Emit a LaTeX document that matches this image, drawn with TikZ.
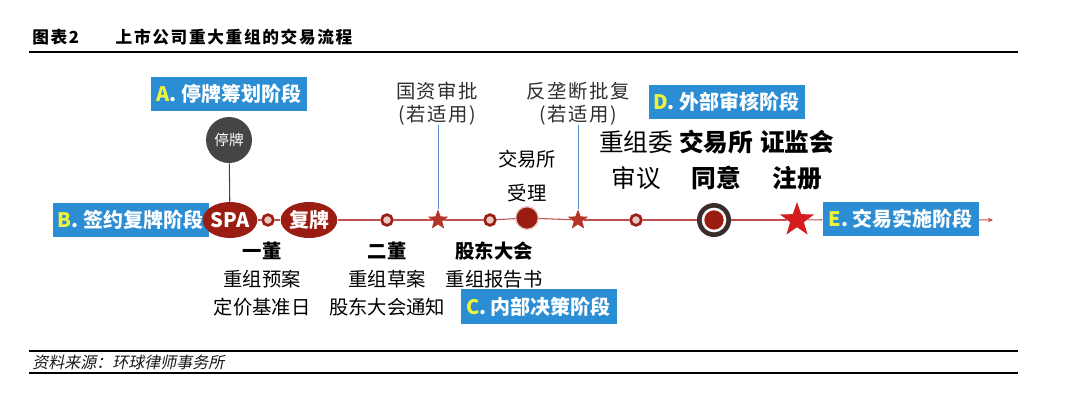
\documentclass[tikz,border=0pt]{standalone}
\usepackage{fontspec}
\setmainfont{Noto Sans CJK SC}
\newfontfamily\cjkit[FakeSlant=0.2]{Noto Sans CJK SC}
\usetikzlibrary{shapes.geometric,arrows.meta}
\definecolor{boxblue}{HTML}{2B8DD3}
\definecolor{yel}{HTML}{EEF23A}
\definecolor{dred}{HTML}{9B1C12}
\definecolor{tline}{HTML}{C0504D}
\definecolor{dotin}{HTML}{E9C9C2}
\definecolor{dgray}{HTML}{454545}
\definecolor{sstar}{HTML}{B5352B}
\definecolor{bstarc}{HTML}{D51C1F}
\definecolor{vblue}{HTML}{5B86C8}
\definecolor{ring}{HTML}{3C2C2C}
\definecolor{txtgray}{HTML}{2E2E2E}
\begin{document}
\begin{tikzpicture}[x=0.75pt,y=-0.75pt,
  stagebox/.style={fill=boxblue,text=white,font=\bfseries\fontsize{15}{18}\selectfont,
    minimum width=117pt,minimum height=26pt,inner sep=0pt},
  tl/.style={draw=tline,line width=0.8pt},
  vline/.style={draw=vblue,line width=0.6pt},
  sdot/.style={circle,fill=dotin,draw=dred,line width=2pt,minimum size=8pt,inner sep=0pt},
  redell/.style={ellipse,fill=dred,text=white,inner sep=0pt,font=\bfseries\fontsize{15}{18}\selectfont},
  sstarn/.style={star,star points=5,star point ratio=2.4,fill=sstar,minimum size=16pt,inner sep=0pt},
  lowtxt/.style={align=center,text=black,font=\fontsize{14.5}{21}\selectfont,inner sep=0pt},
  toptxt/.style={align=center,text=txtgray,font=\fontsize{14.5}{17}\selectfont\addfontfeature{LetterSpace=8},inner sep=0pt},
  bigtxt/.style={align=center,text=black,font=\fontsize{18.5}{27}\selectfont,inner sep=0pt}
]
\useasboundingbox (0,0) rectangle (1071,404);

% header and footer rules
\node[anchor=west,inner sep=0pt,font=\bfseries\fontsize{12.5}{15}\selectfont\addfontfeature{LetterSpace=10}] (title) at (32,37) {图表2\hspace{2.2em}上市公司重大重组的交易流程};
\draw[line width=2pt] (29,52) -- (1018,52);
\draw[line width=1.5pt] (29,351) -- (1018,351);
\node[anchor=west,inner sep=0pt,text=black!90,font=\cjkit\fontsize{12}{14}\selectfont] (src) at (32,362) {资料来源：环球律师事务所};
\draw[line width=2pt] (29,373) -- (1018,373);

% stage boxes
\node[stagebox] (A) at (229,94) {{\color{yel}A}. 停牌筹划阶段};
\node[stagebox] (B) at (130.5,220) {{\color{yel}B}. 签约复牌阶段};
\node[stagebox] (C) at (538.5,306.5) {{\color{yel}C}. 内部决策阶段};
\node[stagebox] (D) at (726.5,102) {{\color{yel}D}. 外部审核阶段};
\node[stagebox] (E) at (900.5,219) {{\color{yel}E}. 交易实施阶段};

% timeline nodes
\node[circle,fill=dgray,text=white,minimum size=34.5pt,inner sep=0pt,font=\fontsize{11}{13}\selectfont] (tp) at (229,140) {停牌};
\node[redell,minimum width=34pt,minimum height=27pt] (spa) at (230,220) {SPA};
\node[sdot] (d1) at (268,220) {};
\node[redell,minimum width=35pt,minimum height=27pt] (fp) at (309,220) {复牌};
\node[sdot] (d2) at (387,220) {};
\node[sstarn] (s1) at (438,220) {};
\node[sdot] (d3) at (490,220) {};
\node[circle,fill=dred,draw=dotin,line width=1pt,minimum size=17pt,inner sep=0pt] (big) at (527,218) {};
\node[sstarn] (s2) at (578,220) {};
\node[sdot] (d4) at (636,220) {};
\node[circle,fill=ring,minimum size=25.5pt,inner sep=0pt] (target) at (714,220) {};
\node[circle,fill=white,minimum size=18.5pt,inner sep=0pt] (tw) at (target.center) {};
\node[circle,fill=dred,minimum size=14.5pt,inner sep=0pt] (tr) at (target.center) {};
\node[star,star points=5,star point ratio=2.5,fill=bstarc,minimum size=27pt,inner sep=0pt] (bs) at (797,220) {};
\coordinate (tip) at (993,220);

% connectors
\draw[draw=dgray,line width=0.8pt] (tp) -- (spa);
\draw[tl] (spa) -- (d1);
\draw[tl] (d1) -- (fp);
\draw[tl] (fp) -- (d2);
\draw[tl] (d2) -- (s1);
\draw[tl] (s1) -- (d3);
\draw[tl] (d3) -- (big);
\draw[tl] (big) -- (s2);
\draw[tl] (s2) -- (d4);
\draw[tl] (d4) -- (target);
\draw[tl] (target) -- (bs);
\draw[tl] (bs) -- (E);
\draw[tl,-{Stealth[length=4pt,width=3.5pt]}] (E) -- (tip);

% labels above
\node[toptxt] (gz) at (437,103.5) {国资审批\\(若适用)};
\node[toptxt] (fl) at (578,103.5) {反垄断批复\\(若适用)};
\draw[vline] (gz.south -| s1) -- (s1.north);
\draw[vline] (fl.south -| s2) -- (s2.north);
\node[align=center,text=black,inner sep=0pt,font=\fontsize{14.5}{26}\selectfont] (jys) at (527,176) {交易所\\受理};
\node[bigtxt] (cz) at (636,160) {重组委\\审议};
\node[bigtxt,font=\bfseries\fontsize{18.5}{27}\selectfont] (ty) at (716,160) {交易所\\同意};
\node[bigtxt,font=\bfseries\fontsize{18.5}{27}\selectfont] (zc) at (797,160) {证监会\\注册};

% labels below
\node[lowtxt] (c1) at (262,279) {\textbf{一董}\\重组预案\\定价基准日};
\node[lowtxt] (c2) at (387,279) {\textbf{二董}\\重组草案\\股东大会通知};
\node[lowtxt] (c3) at (494,265) {\textbf{股东大会}\\重组报告书};
\end{tikzpicture}
\end{document}
